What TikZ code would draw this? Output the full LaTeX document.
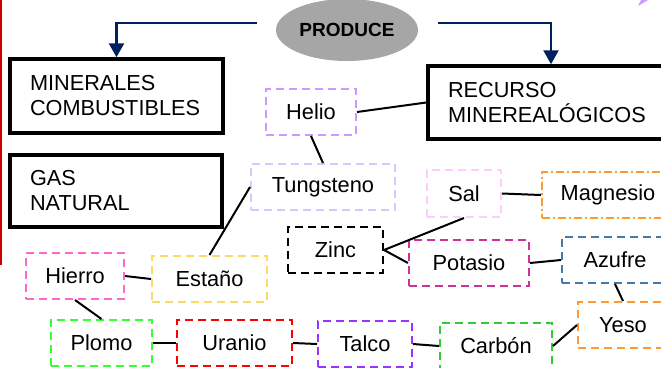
\documentclass[tikz,border=0pt]{standalone}
\usepackage{fontspec}
\setmainfont{Liberation Sans}
\usetikzlibrary{shapes.geometric,arrows.meta}
\definecolor{navyarrow}{RGB}{0,32,96}
\definecolor{cHelio}{RGB}{204,153,255}
\definecolor{cTung}{RGB}{204,204,255}
\definecolor{cSal}{RGB}{255,204,255}
\definecolor{cOrange}{RGB}{255,153,51}
\definecolor{cPotasio}{RGB}{204,51,153}
\definecolor{cAzufre}{RGB}{70,120,170}
\definecolor{cCarbon}{RGB}{51,204,51}
\definecolor{cTalco}{RGB}{153,51,255}
\definecolor{cUranio}{RGB}{255,0,0}
\definecolor{cPlomo}{RGB}{51,255,51}
\definecolor{cHierro}{RGB}{255,102,204}
\definecolor{cEstano}{RGB}{255,217,102}
\definecolor{cEllipse}{RGB}{166,166,166}
\definecolor{cRedline}{RGB}{204,0,0}
\begin{document}
\begin{tikzpicture}[x=1pt,y=-1pt,
  bigbox/.style={draw=black, line width=3.5pt, rectangle, align=left, inner xsep=20pt,
    font=\fontsize{21.7}{25}\selectfont},
  smallbox/.style={draw=#1, line width=2pt, dash pattern=on 8pt off 5pt, rectangle,
    minimum height=46pt, inner sep=0pt, font=\fontsize{21.8}{25}\selectfont},
  link/.style={draw=black, line width=2pt},
  arr/.style={draw=navyarrow, line width=2.5pt, -{Triangle[length=14pt,width=15pt]}}
]
\useasboundingbox[fill=white] (0,0) rectangle (661,367);
% decorations at the edges
\draw[cRedline, line width=1.5pt] (1,0) -- (1,265);
\fill[cHelio] (638,6) -- (641,0) -- (648,0) -- cycle;

% main nodes
\node[ellipse, fill=cEllipse, minimum width=142pt, minimum height=62pt, inner sep=0pt,
  font=\fontsize{19}{21}\selectfont\bfseries] (produce) at (347,30) {PRODUCE};
\node[bigbox, minimum width=213pt, minimum height=74pt, text width=173pt] (minerales) at (116.5,96) {MINERALES\\COMBUSTIBLES};
\node[bigbox, minimum width=212pt, minimum height=72pt, text width=172pt] (gas) at (116,191) {GAS\\NATURAL};
\node[bigbox, minimum width=252pt, minimum height=73pt, text width=212pt] (recurso) at (554,102.5) {RECURSO\\MINEREALÓGICOS};

% small nodes
\node[smallbox=cHelio, minimum width=90pt] (helio) at (311,112) {Helio};
\node[smallbox=cTung, minimum width=144pt] (tung) at (323,187) {Tungsteno};
\node[smallbox=cSal, minimum width=74pt, minimum height=47pt] (sal) at (464,193.5) {Sal};
\node[smallbox=cOrange, dash pattern=on 8pt off 3pt on 2pt off 3pt, minimum width=132pt] (magnesio) at (608,195) {Magnesio};
\node[smallbox=black, minimum width=95pt] (zinc) at (335.5,250) {Zinc};
\node[smallbox=cPotasio, minimum width=120pt] (potasio) at (469,263) {Potasio};
\node[smallbox=cAzufre, minimum width=106pt] (azufre) at (615,260) {Azufre};
\node[smallbox=cOrange, minimum width=90pt] (yeso) at (623,325) {Yeso};
\node[smallbox=cCarbon, minimum width=112pt] (carbon) at (496,346) {Carbón};
\node[smallbox=cTalco, minimum width=94pt] (talco) at (365,344) {Talco};
\node[smallbox=cUranio, minimum width=115pt] (uranio) at (234.5,343) {Uranio};
\node[smallbox=cPlomo, minimum width=101pt] (plomo) at (101.5,343) {Plomo};
\node[smallbox=cHierro, minimum width=98pt] (hierro) at (75,276) {Hierro};
\node[smallbox=cEstano, minimum width=115pt] (estano) at (209.5,279) {Estaño};

% arrows
\draw[arr] ([shift={(-19,-7)}]produce.west) -| (minerales.north);
\draw[arr] ([shift={(20,-7)}]produce.east) -| ([xshift=-3pt]recurso.north);

% connectors
\draw[link] (helio.east) -- (recurso.west);
\draw[link] (helio.south) -- (tung.north);
\draw[link] (tung.west) -- (estano.north);
\draw[link] (hierro.east) -- (estano.west);
\draw[link] (hierro.south) -- (plomo.north);
\draw[link] (plomo.east) -- (uranio.west);
\draw[link] (uranio.east) -- (talco.west);
\draw[link] (talco.east) -- (carbon.west);
\draw[link] (carbon.east) -- (yeso.west);
\draw[link] (azufre.south) -- (yeso.north);
\draw[link] (potasio.east) -- (azufre.west);
\draw[link] (sal.east) -- (magnesio.west);
\draw[link] (sal.south) -- (zinc.east);
\draw[link] (zinc.east) -- (potasio.west);
\end{tikzpicture}
\end{document}
